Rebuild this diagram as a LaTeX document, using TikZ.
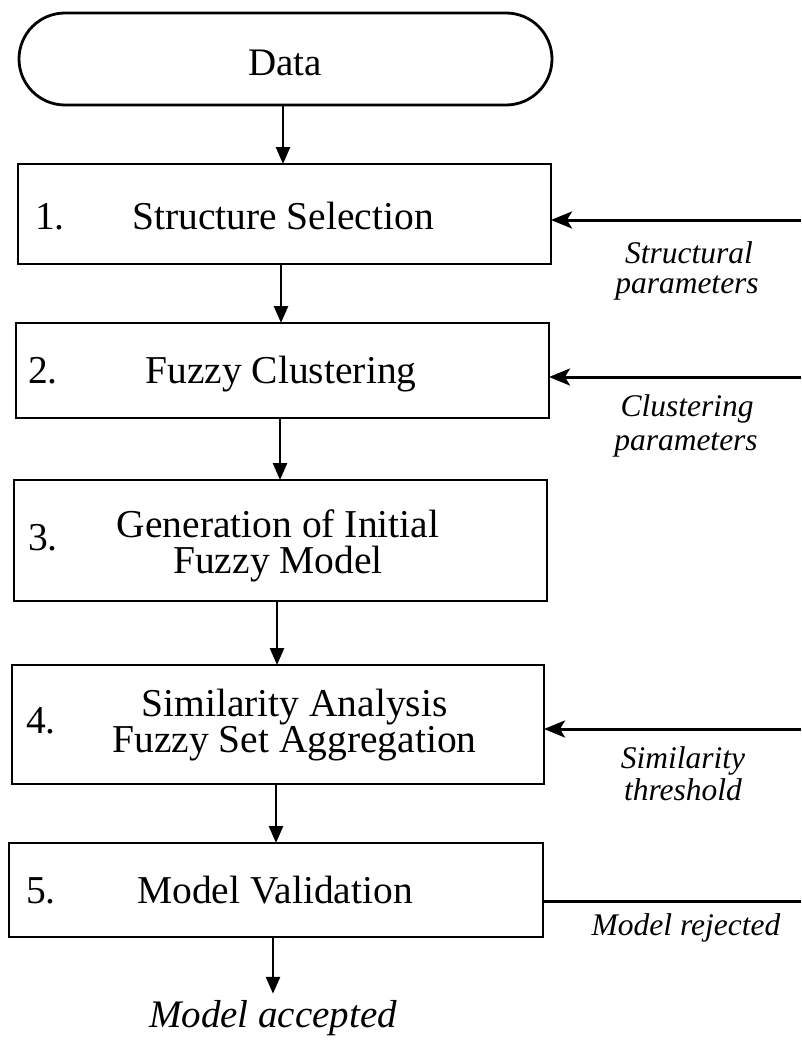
\documentclass[tikz,border=0pt]{standalone}
\usepackage{fontspec}
\setmainfont{Liberation Serif}
\usetikzlibrary{arrows.meta}
\begin{document}
\begin{tikzpicture}[x=1pt,y=-1pt,
  box/.style={draw, line width=2.8pt, inner sep=0pt, outer sep=0pt},
  btxt/.style={inner sep=0pt, anchor=base, font=\fontsize{39.5}{44}\selectfont},
  mtxt/.style={inner sep=0pt, anchor=center, align=center, font=\fontsize{39.5}{36}\selectfont},
  lbl/.style={inner sep=0pt, anchor=base, font=\fontsize{31.5}{34}\selectfont\itshape},
  darr/.style={line width=2.6pt, -{Triangle[length=17pt,width=14pt]}},
  rarr/.style={line width=3pt, -{Stealth[length=21pt,width=17pt,inset=5pt]}},
  rline/.style={line width=3pt}]
\useasboundingbox (0,0) rectangle (801,1044);

% start terminal
\node[box, rounded corners=46pt, minimum width=533pt, minimum height=92pt] (Data) at (285.5,59) {};
\node[btxt, font=\fontsize{39}{44}\selectfont] (tData) at (285,75) {Data};

% process boxes
\node[box, minimum width=533pt, minimum height=100pt] (B1) at (284.5,214) {};
\node[box, minimum width=533pt, minimum height=95pt]  (B2) at (282.5,370.5) {};
\node[box, minimum width=533pt, minimum height=121pt] (B3) at (280.5,540.5) {};
\node[box, minimum width=532pt, minimum height=119pt] (B4) at (278,724.5) {};
\node[box, minimum width=534pt, minimum height=94pt]  (B5) at (276,890) {};

% box texts
\node[btxt] (n1) at (50,229) {1.};
\node[btxt] (t1) at (283,229) {Structure Selection};
\node[btxt] (n2) at (43,383) {2.};
\node[btxt] (t2) at (281,383) {Fuzzy Clustering};
\node[btxt] (n3) at (43,550) {3.};
\node[mtxt] (t3) at (278,546) {Generation of Initial\\Fuzzy Model};
\node[btxt] (n4) at (41,733) {4.};
\node[mtxt] (t4) at (294.5,725) {Similarity Analysis\\Fuzzy Set Aggregation};
\node[btxt] (n5) at (41,903) {5.};
\node[btxt] (t5) at (275,903) {Model Validation};

% side labels
\node[lbl] (l1a) at (689,263) {Structural};
\node[lbl] (l1b) at (687,293) {parameters};
\node[lbl] (l2a) at (687,416) {Clustering};
\node[lbl] (l2b) at (686,450) {parameters};
\node[lbl] (l4a) at (683,768) {Similarity};
\node[lbl] (l4b) at (683,800) {threshold};
\node[lbl] (l5) at (686,935) {Model rejected};
\node[btxt, font=\fontsize{39}{44}\selectfont\itshape] (acc) at (273,1027) {Model accepted};

% free ends on the right
\coordinate (in1) at (801,220);
\coordinate (in2) at (801,377);
\coordinate (in4) at (801,729);
\coordinate (out5) at (801,901);

% vertical flow
\draw[darr] (Data.south -| 283,0) -- (B1.north -| 283,0);
\draw[darr] (B1.south -| 281,0) -- (B2.north -| 281,0);
\draw[darr] (B2.south -| 280,0) -- (B3.north -| 280,0);
\draw[darr] (B3.south -| 277,0) -- (B4.north -| 277,0);
\draw[darr] (B4.south -| 276,0) -- (B5.north -| 276,0);
\draw[darr, shorten >=6pt] (B5.south -| 273,0) -- (acc.north -| 273,0);

% inputs from the right
\draw[rarr] (in1) -- (B1.east |- in1);
\draw[rarr] (in2) -- (B2.east |- in2);
\draw[rarr] (in4) -- (B4.east |- in4);
\draw[rline] (B5.east |- out5) -- (out5);
\end{tikzpicture}
\end{document}
